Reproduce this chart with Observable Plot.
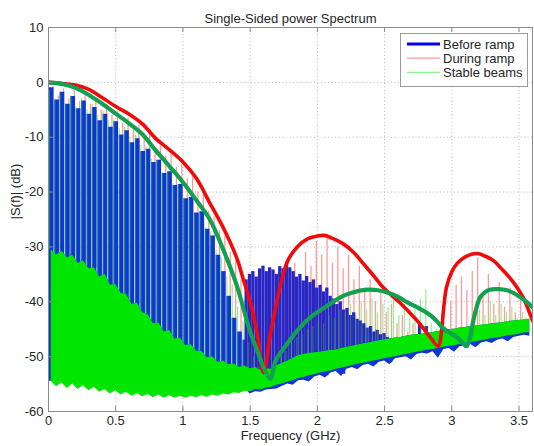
<!DOCTYPE html>
<html><head><meta charset="utf-8">
<script src="https://cdn.jsdelivr.net/npm/d3@7"></script>
<script src="https://cdn.jsdelivr.net/npm/@observablehq/plot@0.6"></script>
<style>
html,body{margin:0;padding:0;background:#fff;}
#chart{width:534px;height:446px;}
</style></head><body><div id="chart"></div>
<script>
const title = "Single-Sided power Spectrum";
const xLabel = "Frequency (GHz)";
const yLabel = "|S(f)| (dB)";
const xTicks = [0, 0.5, 1, 1.5, 2, 2.5, 3, 3.5];
const yTicks = [-60, -50, -40, -30, -20, -10, 0, 10];
const seriesNames = ["Before ramp", "During ramp", "Stable beams"];

// harmonic comb frequencies (GHz)
const combFreq = [0.02,0.06,0.10,0.14,0.18,0.22,0.26,0.30,0.34,0.38,0.42,0.46,0.50,0.54,0.58,0.62,0.66,0.70,0.74,0.78,0.82,0.86,0.90,0.94,0.98,1.02,1.06,1.10,1.14,1.18,1.22,1.26,1.30,1.34,1.38,1.42,1.46,1.50,1.54,1.58,1.62,1.66,1.70,1.74,1.78,1.82,1.86,1.90,1.94,1.98,2.02,2.06,2.10,2.14,2.18,2.22,2.26,2.30,2.34,2.38,2.42,2.46,2.50,2.54,2.58,2.62,2.66,2.70,2.74,2.78,2.82,2.86,2.90,2.94,2.98,3.02,3.06,3.10,3.14,3.18,3.22,3.26,3.30,3.34,3.38,3.42,3.46,3.50,3.54,3.58];

// During ramp: line peaks (dB)
const redTop = [-0.8,-2.5,-1.2,-3.0,-1.5,-3.5,-2.0,-4.0,-2.8,-5.0,-4.0,-6.0,-5.3,-7.5,-6.5,-8.5,-7.8,-10.0,-9.5,-12.0,-11.6,-13.5,-13.0,-15.5,-15.0,-17.5,-17.2,-20.0,-20.5,-23.5,-24.5,-27.0,-28.0,-31.0,-32.5,-36.0,-39.0,-42.5,-47.0,-51.5,-52.0,-49.0,-44.0,-38.0,-36.5,-33.0,-35.0,-31.0,-33.5,-29.0,-31.5,-28.5,-33.0,-30.0,-34.0,-31.5,-36.0,-33.5,-37.5,-36.0,-40.0,-38.5,-42.0,-40.5,-44.0,-42.5,-45.5,-44.0,-46.5,-45.8,-47.5,-47.8,-48.5,-44.5,-40.0,-37.0,-35.5,-38.0,-34.5,-32.0,-39.0,-35.0,-40.5,-36.5,-41.0,-37.5,-42.0,-39.5,-43.0,-44.0];

// Stable beams: line peaks (dB)
const greenTop = [-1.5,-3.0,-2.0,-4.0,-2.5,-4.5,-3.0,-5.0,-4.0,-6.0,-5.2,-7.0,-6.8,-8.5,-8.2,-10.0,-9.6,-11.5,-11.8,-14.0,-14.2,-16.5,-16.5,-18.5,-18.6,-21.0,-21.3,-24.0,-24.0,-26.5,-27.3,-30.5,-32.0,-35.5,-37.0,-41.0,-43.5,-47.5,-50.0,-51.8,-53.0,-52.5,-51.5,-49.5,-49.0,-47.5,-46.5,-46.0,-45.0,-44.5,-43.5,-44.0,-42.5,-43.0,-41.5,-42.0,-40.5,-42.5,-40.0,-41.5,-39.5,-42.0,-40.5,-41.0,-39.8,-42.5,-40.5,-43.0,-41.5,-39.5,-37.8,-44.0,-45.0,-46.0,-45.5,-45.3,-45.5,-45.0,-45.0,-44.0,-41.5,-42.5,-40.0,-42.5,-40.5,-42.0,-41.0,-43.0,-42.0,-43.2];

// Before ramp: main-lobe line peaks (first 37 comb lines)
const blueTop = [-1.0,-3.2,-1.8,-4.0,-2.6,-4.8,-3.4,-5.8,-4.6,-7.0,-5.8,-8.2,-7.2,-9.6,-8.8,-11.0,-10.3,-12.6,-12.2,-14.6,-14.2,-16.6,-16.3,-18.8,-18.6,-21.2,-21.0,-23.8,-23.6,-26.8,-28.0,-31.5,-34.5,-39.0,-43.0,-45.5,-47.0];

// Before ramp: second lobe
const blue2Freq = [1.47,1.495,1.52,1.545,1.57,1.595,1.62,1.645,1.67,1.695,1.72,1.745,1.77,1.795,1.82,1.845,1.87,1.895,1.92,1.945,1.97,1.995,2.02,2.045,2.07,2.095,2.12,2.145,2.17,2.195,2.22,2.245,2.27,2.295,2.32,2.345,2.37,2.395,2.42,2.445,2.47,2.495,2.52,2.545,2.57,2.595,2.62,2.76,2.81];
const blue2Top = [-36,-35,-34.5,-35.5,-34,-33.5,-34.5,-33.8,-34.2,-35,-33.6,-34,-33.2,-33.8,-34.5,-35.5,-35,-36.2,-35.4,-36.5,-36,-37.5,-37,-38.2,-37.5,-39,-39.5,-40.5,-40,-41.5,-41.2,-42.5,-42,-43.2,-43.5,-44,-44.8,-44.5,-45.5,-45.2,-46,-45.8,-46.5,-47,-46.8,-47.5,-48,-43.8,-44.5];

// noise floor (Stable beams), upper and lower edge at comb frequencies
const floorTop = [-30.5,-31.5,-30.8,-32.0,-31.5,-33.0,-32.5,-34.0,-33.8,-35.5,-35.0,-37.0,-36.8,-38.5,-38.6,-40.5,-40.2,-42.0,-42.3,-44.0,-43.8,-45.5,-45.2,-46.8,-46.6,-48.0,-47.8,-49.0,-49.0,-50.2,-50.0,-51.0,-50.8,-51.5,-51.3,-52.0,-51.7,-52.2,-52.0,-52.5,-52.2,-52.3,-51.6,-51.2,-50.8,-50.3,-49.8,-49.6,-49.4,-49.3,-49.2,-49.0,-48.9,-48.8,-48.5,-48.3,-48.1,-47.9,-47.7,-47.5,-47.3,-47.1,-46.9,-46.8,-46.6,-46.5,-46.3,-46.1,-46.0,-45.9,-45.8,-45.6,-45.4,-45.3,-45.1,-45.0,-44.8,-44.7,-44.5,-44.4,-44.3,-44.2,-44.0,-43.9,-43.8,-43.6,-43.5,-43.4,-43.3,-43.2];
const floorBottom = [-54.5,-55.5,-54.8,-55.8,-55.0,-56.0,-55.3,-56.2,-55.6,-56.5,-56.0,-56.8,-56.2,-57.0,-56.5,-57.2,-56.7,-57.3,-56.9,-57.5,-57.0,-57.6,-57.1,-57.6,-57.2,-57.6,-57.2,-57.5,-57.1,-57.4,-57.0,-57.2,-56.8,-57.0,-56.6,-56.7,-56.3,-56.4,-56.0,-56.1,-55.7,-55.6,-55.2,-55.0,-54.6,-54.4,-54.0,-53.8,-53.5,-53.3,-53.0,-52.8,-52.6,-52.3,-52.1,-51.9,-51.6,-51.4,-51.2,-51.0,-50.8,-50.6,-50.4,-50.2,-50.0,-49.8,-49.6,-49.4,-49.2,-49.0,-48.8,-48.7,-48.5,-48.3,-48.1,-48.0,-47.8,-47.6,-47.4,-47.3,-47.1,-46.9,-46.7,-46.6,-46.4,-46.2,-46.1,-45.9,-45.7,-45.6];
// noise floor (Before ramp), lower edge
const blueFloor = [-54.5,-55,-54.6,-55.2,-54.8,-55.3,-55,-55.6,-55.2,-55.8,-55.5,-56,-55.6,-56.2,-55.8,-56.4,-56,-56.5,-56.2,-56.6,-56.3,-56.7,-56.4,-56.8,-56.5,-56.8,-56.5,-56.8,-56.4,-56.7,-56.3,-56.5,-56.1,-56.3,-55.9,-56,-55.7,-56.8,-56.4,-56.5,-56.1,-56.0,-55.9,-55.4,-55.0,-55.2,-54.4,-54.3,-54.6,-53.7,-53.4,-53.9,-53.0,-52.7,-53.6,-52.3,-52.0,-52.4,-51.6,-51.4,-51.9,-51.0,-50.8,-51.5,-50.4,-50.2,-50.0,-50.6,-49.6,-49.4,-49.5,-49.1,-50.3,-48.7,-48.5,-49.2,-48.2,-48.0,-47.8,-48.4,-47.5,-47.3,-47.6,-47.0,-46.8,-47.3,-46.5,-46.3,-46.1,-46.3];

// envelopes
const redEnvFreq = [0,0.1,0.2,0.3,0.4,0.5,0.6,0.7,0.8,0.9,1.0,1.1,1.2,1.3,1.4,1.45,1.5,1.55,1.6,1.65,1.69,1.73,1.78,1.85,1.93,2.0,2.05,2.1,2.19,2.27,2.34,2.42,2.49,2.56,2.62,2.68,2.74,2.8,2.84,2.9,2.92,2.94,2.96,3.0,3.04,3.1,3.19,3.25,3.31,3.37,3.43,3.48,3.53,3.57,3.6];
const redEnvDb = [0,-0.2,-0.5,-1.3,-2.8,-4.4,-5.8,-7.6,-10.3,-12.3,-14.5,-17.5,-22.0,-26.5,-32.0,-36,-40,-45.5,-52.9,-46,-41,-36.5,-32.5,-30,-28.5,-28,-27.9,-28.3,-29.4,-31,-33,-35.3,-37.4,-39,-40.3,-41.8,-43.4,-45.2,-46.5,-48.1,-46,-41,-37.4,-34.5,-33,-31.8,-31.2,-31.7,-32.5,-34,-35.6,-37.2,-39.2,-41.5,-43.4];
const greenEnvFreq = [0,0.1,0.2,0.3,0.4,0.5,0.6,0.7,0.8,0.9,1.0,1.1,1.2,1.3,1.4,1.5,1.56,1.6,1.65,1.69,1.75,1.81,1.87,1.95,2.02,2.1,2.17,2.25,2.37,2.45,2.52,2.6,2.67,2.75,2.82,2.88,2.93,2.99,3.04,3.08,3.11,3.14,3.16,3.19,3.21,3.25,3.28,3.35,3.41,3.46,3.51,3.56,3.6];
const greenEnvDb = [0,-0.3,-1.0,-2.3,-3.9,-5.7,-7.5,-9.5,-12.5,-15.3,-18.2,-21.5,-25.0,-30.5,-37.0,-45.5,-49.4,-52,-54,-50.7,-48.5,-46.5,-44.7,-42.8,-41.6,-40.3,-39.2,-38.4,-37.8,-37.9,-38.3,-39.1,-40.1,-41.1,-42.1,-43.3,-44.7,-45.7,-46.5,-47.5,-48.1,-46,-43.4,-40.5,-39.2,-38.2,-37.8,-37.7,-37.9,-38.4,-39.2,-40.1,-41];

// ---- build tables ----
const comb = combFreq.map((f, i) => ({f, red: redTop[i], green: greenTop[i], top: floorTop[i], bottom: floorBottom[i], bfloor: blueFloor[i]}));
const blue1 = blueTop.map((v, i) => ({f: combFreq[i], top: v, bottom: blueFloor[i]}));
const blue2 = blue2Freq.map((f, i) => ({f, top: blue2Top[i], bottom: blueFloor[d3.bisectCenter(combFreq, f)] + 0.4}));
const redEnv = redEnvFreq.map((f, i) => ({f, v: redEnvDb[i]}));
const greenEnv = greenEnvFreq.map((f, i) => ({f, v: greenEnvDb[i]}));

const C = {
  blue: "#1034d8", blue2: "#2a26c4", red: "#ff0000", green: "#00e600",
  redEnv: "#f20a0a", greenEnv: "#12a150", grid: "#b8b8b8", axis: "#8a8a8a", text: "#262626"
};
const FONT = "'Liberation Sans', Arial, sans-serif";

const plot = Plot.plot({
  width: 534, height: 446,
  marginLeft: 48, marginRight: 2, marginTop: 27, marginBottom: 35,
  style: {fontFamily: FONT, fontSize: "13px", color: C.text, background: "#fff"},
  x: {domain: [0, 3.6], ticks: xTicks, tickFormat: d => String(d), tickSize: 0, tickPadding: 4, label: null},
  y: {domain: [-60, 10], ticks: yTicks, tickFormat: d => String(d), tickSize: 0, tickPadding: 5, label: null},
  marks: [
    Plot.ruleX(xTicks, {stroke: C.grid, strokeDasharray: "1,2.5", strokeWidth: 1}),
    Plot.ruleY(yTicks, {stroke: C.grid, strokeDasharray: "1,2.5", strokeWidth: 1}),
    // During ramp lines
    Plot.ruleX(comb, {x: "f", y1: "top", y2: "red", stroke: C.red, strokeOpacity: 0.4, strokeWidth: 1.3, dx: 1.6}),
    // Before ramp lines
    Plot.ruleX(blue1, {x: "f", y1: "bottom", y2: "top", stroke: C.blue, strokeWidth: 4.7, strokeLinecap: "butt"}),
    Plot.ruleX(blue2, {x: "f", y1: "bottom", y2: "top", stroke: C.blue2, strokeWidth: 3.3, strokeLinecap: "butt"}),
    // Stable beams lines
    Plot.ruleX(comb, {x: "f", y1: "top", y2: "green", stroke: C.green, strokeOpacity: 0.45, strokeWidth: 1.2, dx: -1.8}),
    // noise floors
    Plot.areaY(comb, {x: "f", y1: "bfloor", y2: "top", fill: C.blue, curve: "linear"}),
    Plot.areaY(comb, {x: "f", y1: "bottom", y2: "top", fill: C.green, curve: "linear"}),
    // envelopes
    Plot.line(redEnv, {x: "f", y: "v", stroke: C.redEnv, strokeWidth: 3.6, curve: "catmull-rom", clip: true}),
    Plot.line(greenEnv, {x: "f", y: "v", stroke: C.greenEnv, strokeWidth: 4.2, curve: "catmull-rom", clip: true}),
    // inward ticks
    Plot.ruleX(xTicks, {y1: -60, y2: -59.1, stroke: C.axis}),
    Plot.ruleX(xTicks, {y1: 10, y2: 9.1, stroke: C.axis}),
    Plot.ruleY(yTicks, {x1: 0, x2: 0.036, stroke: C.axis}),
    Plot.frame({stroke: C.axis}),
    Plot.text([title], {frameAnchor: "top", dy: -14, fontSize: 13, fill: C.text}),
    Plot.text([xLabel], {frameAnchor: "bottom", dy: 28, fontSize: 13, fill: C.text}),
    Plot.text([yLabel], {frameAnchor: "left", dx: -33, rotate: -90, fontSize: 13, fill: C.text})
  ]
});
document.getElementById("chart").appendChild(plot);

// legend
const svg = d3.select(plot);
const lg = svg.append("g").attr("font-family", FONT).attr("font-size", 13).attr("fill", C.text).attr("text-anchor", "start");
lg.append("rect").attr("x", 400.5).attr("y", 33.5).attr("width", 127).attr("height", 53).attr("fill", "#fff").attr("stroke", "#9a9a9a");
const legendStyles = [
  {stroke: "#0000e8", width: 3, opacity: 1},
  {stroke: "#ff0000", width: 1.3, opacity: 0.4},
  {stroke: "#00e600", width: 1.3, opacity: 0.45}
];
seriesNames.forEach((name, i) => {
  const y = 44 + i * 14.2;
  lg.append("line").attr("x1", 407).attr("x2", 440).attr("y1", y).attr("y2", y)
    .attr("stroke", legendStyles[i].stroke).attr("stroke-width", legendStyles[i].width).attr("stroke-opacity", legendStyles[i].opacity);
  lg.append("text").attr("x", 443).attr("y", y + 4.6).attr("text-anchor", "start").text(name);
});
</script>
</body></html>
